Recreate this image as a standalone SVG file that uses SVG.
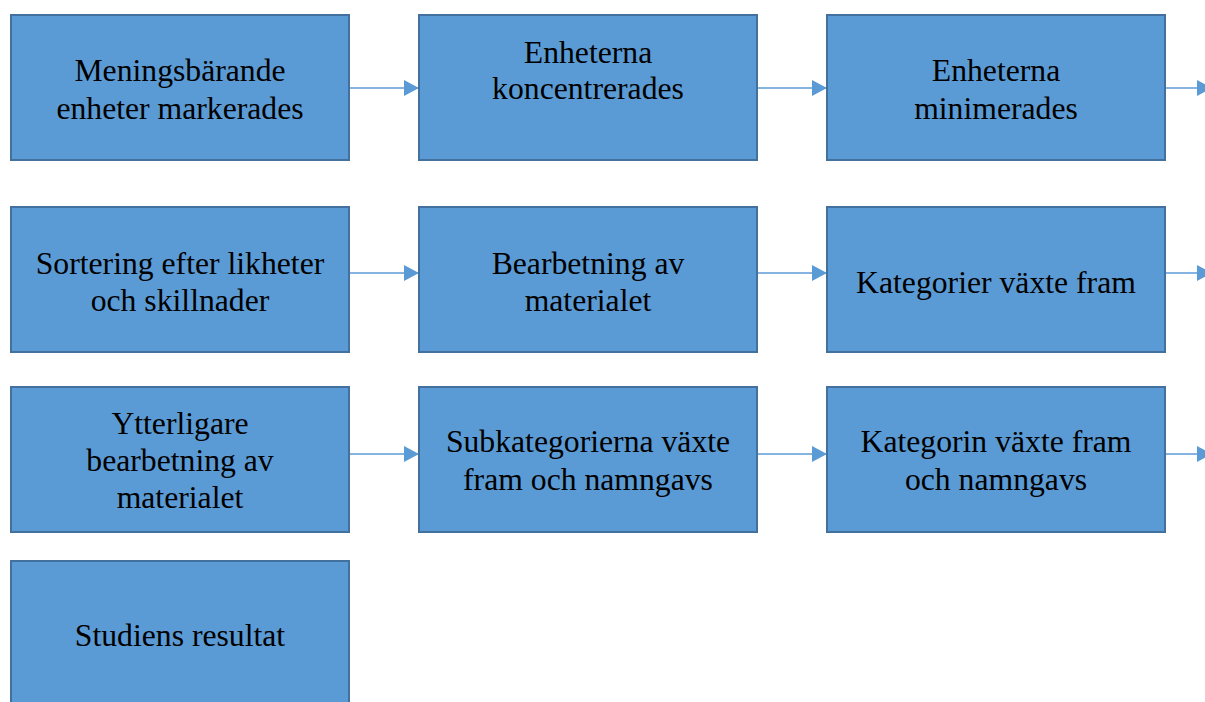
<svg xmlns="http://www.w3.org/2000/svg" width="1205" height="702" viewBox="0 0 1205 702">
<defs>
<style>
.box{fill:#5B9BD5;stroke:#41719C;stroke-width:2}
.t{font-family:"Liberation Serif","Times New Roman",serif;font-size:31.7px;fill:#000;text-anchor:middle}
.c{stroke:#5B9BD5;stroke-width:1.5;fill:none;marker-end:url(#ah)}
</style>
<marker id="ah" markerUnits="userSpaceOnUse" markerWidth="15" markerHeight="16" refX="15" refY="8" orient="auto">
<path d="M0,0 L15,8 L0,16 Z" fill="#5B9BD5"/>
</marker>
</defs>
<rect width="1205" height="702" fill="#fff"/>
<g id="connectors">
<line class="c" x1="350" y1="88" x2="419" y2="88"/>
<line class="c" x1="758" y1="88" x2="827" y2="88"/>
<line class="c" x1="1166" y1="88" x2="1212" y2="88"/>
<line class="c" x1="350" y1="273" x2="419" y2="273"/>
<line class="c" x1="758" y1="273" x2="827" y2="273"/>
<line class="c" x1="1166" y1="273" x2="1212" y2="273"/>
<line class="c" x1="350" y1="454" x2="419" y2="454"/>
<line class="c" x1="758" y1="454" x2="827" y2="454"/>
<line class="c" x1="1166" y1="454" x2="1212" y2="454"/>
</g>
<g id="n1"><rect class="box" x="11" y="15" width="338" height="145"/><text class="t" x="180" y="81">Meningsbärande</text><text class="t" x="180" y="118.5">enheter markerades</text></g>
<g id="n2"><rect class="box" x="419" y="15" width="338" height="145"/><text class="t" x="588" y="62.5">Enheterna</text><text class="t" x="588" y="99">koncentrerades</text></g>
<g id="n3"><rect class="box" x="827" y="15" width="338" height="145"/><text class="t" x="996" y="81">Enheterna</text><text class="t" x="996" y="118.5">minimerades</text></g>
<g id="n4"><rect class="box" x="11" y="207" width="338" height="145"/><text class="t" x="180" y="274">Sortering efter likheter</text><text class="t" x="180" y="311">och skillnader</text></g>
<g id="n5"><rect class="box" x="419" y="207" width="338" height="145"/><text class="t" x="588" y="274">Bearbetning av</text><text class="t" x="588" y="311">materialet</text></g>
<g id="n6"><rect class="box" x="827" y="207" width="338" height="145"/><text class="t" x="996" y="293">Kategorier växte fram</text></g>
<g id="n7"><rect class="box" x="11" y="387" width="338" height="145"/><text class="t" x="180" y="433.5">Ytterligare</text><text class="t" x="180" y="470.5">bearbetning av</text><text class="t" x="180" y="507.5">materialet</text></g>
<g id="n8"><rect class="box" x="419" y="387" width="338" height="145"/><text class="t" x="588" y="452">Subkategorierna växte</text><text class="t" x="588" y="490">fram och namngavs</text></g>
<g id="n9"><rect class="box" x="827" y="387" width="338" height="145"/><text class="t" x="996" y="452">Kategorin växte fram</text><text class="t" x="996" y="490">och namngavs</text></g>
<g id="n10"><rect class="box" x="11" y="561" width="338" height="160"/><text class="t" x="180" y="645.5">Studiens resultat</text></g>
</svg>
